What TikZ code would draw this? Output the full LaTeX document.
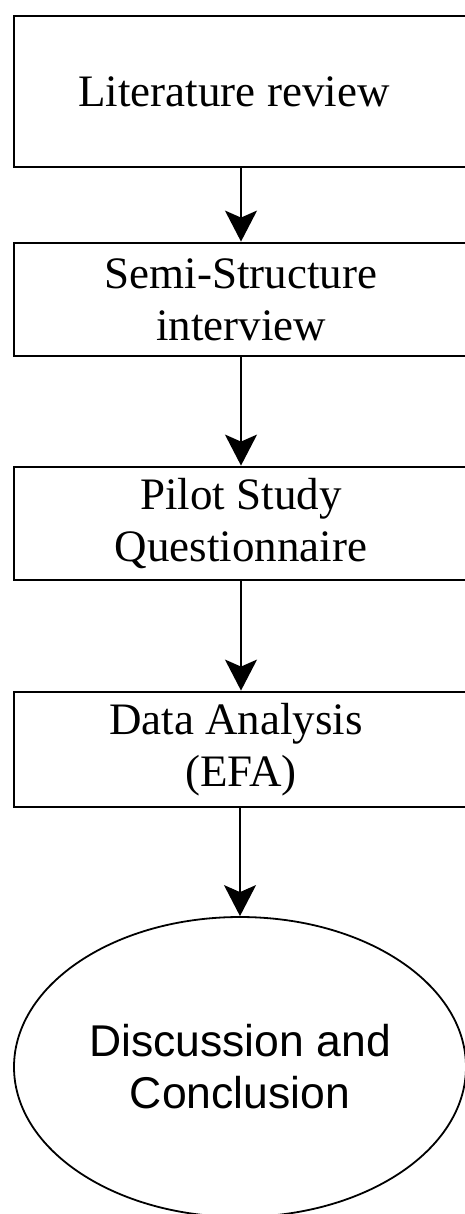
\documentclass[tikz,border=0pt]{standalone}
\usepackage{fontspec}
\setmainfont{Liberation Serif}
\newfontfamily\arialish{Liberation Sans}
\usetikzlibrary{arrows.meta,shapes.geometric}
\begin{document}
\begin{tikzpicture}[x=1pt,y=-1pt,
  stepbox/.style={draw, line width=2.8pt, rectangle, minimum width=454pt, inner sep=0pt, align=center,
     font=\fontsize{45}{52}\selectfont},
  endoval/.style={draw, line width=1.8pt, ellipse, minimum width=452pt, minimum height=300pt, inner sep=0pt, align=center,
     font=\arialish\fontsize{44.5}{52}\selectfont},
  flow/.style={line width=1.8pt, -{Stealth[length=31pt, width=32pt, inset=7pt]}}]
\useasboundingbox (0,0) rectangle (465,1214);
\clip (0,0) rectangle (465,1214);
\fill[white] (0,0) rectangle (465,1214);
\node[stepbox, minimum height=151pt] (lit) at (241,91.5) {\raisebox{-3pt}{Literature review}\hspace*{14pt}};
\node[stepbox, minimum height=113pt] (semi) at (241,299.5) {Semi-Structure\\interview};
\node[stepbox, minimum height=113pt] (pilot) at (241,523.5) {Pilot Study\\Questionnaire};
\node[stepbox, minimum height=115pt] (data) at (241,749.5) {Data Analysis\hspace*{10pt}\\(EFA)};
\node[endoval] (disc) at (240,1067) {Discussion and\\Conclusion};
\coordinate (a1) at (241,167);
\draw[flow] (lit.south -| a1) -- (semi.north -| a1);
\draw[flow] (semi.south -| a1) -- (pilot.north -| a1);
\draw[flow] (pilot.south -| a1) -- (data.north -| a1);
\draw[flow] (data.south -| disc.north) -- (disc.north);
\end{tikzpicture}
\end{document}
